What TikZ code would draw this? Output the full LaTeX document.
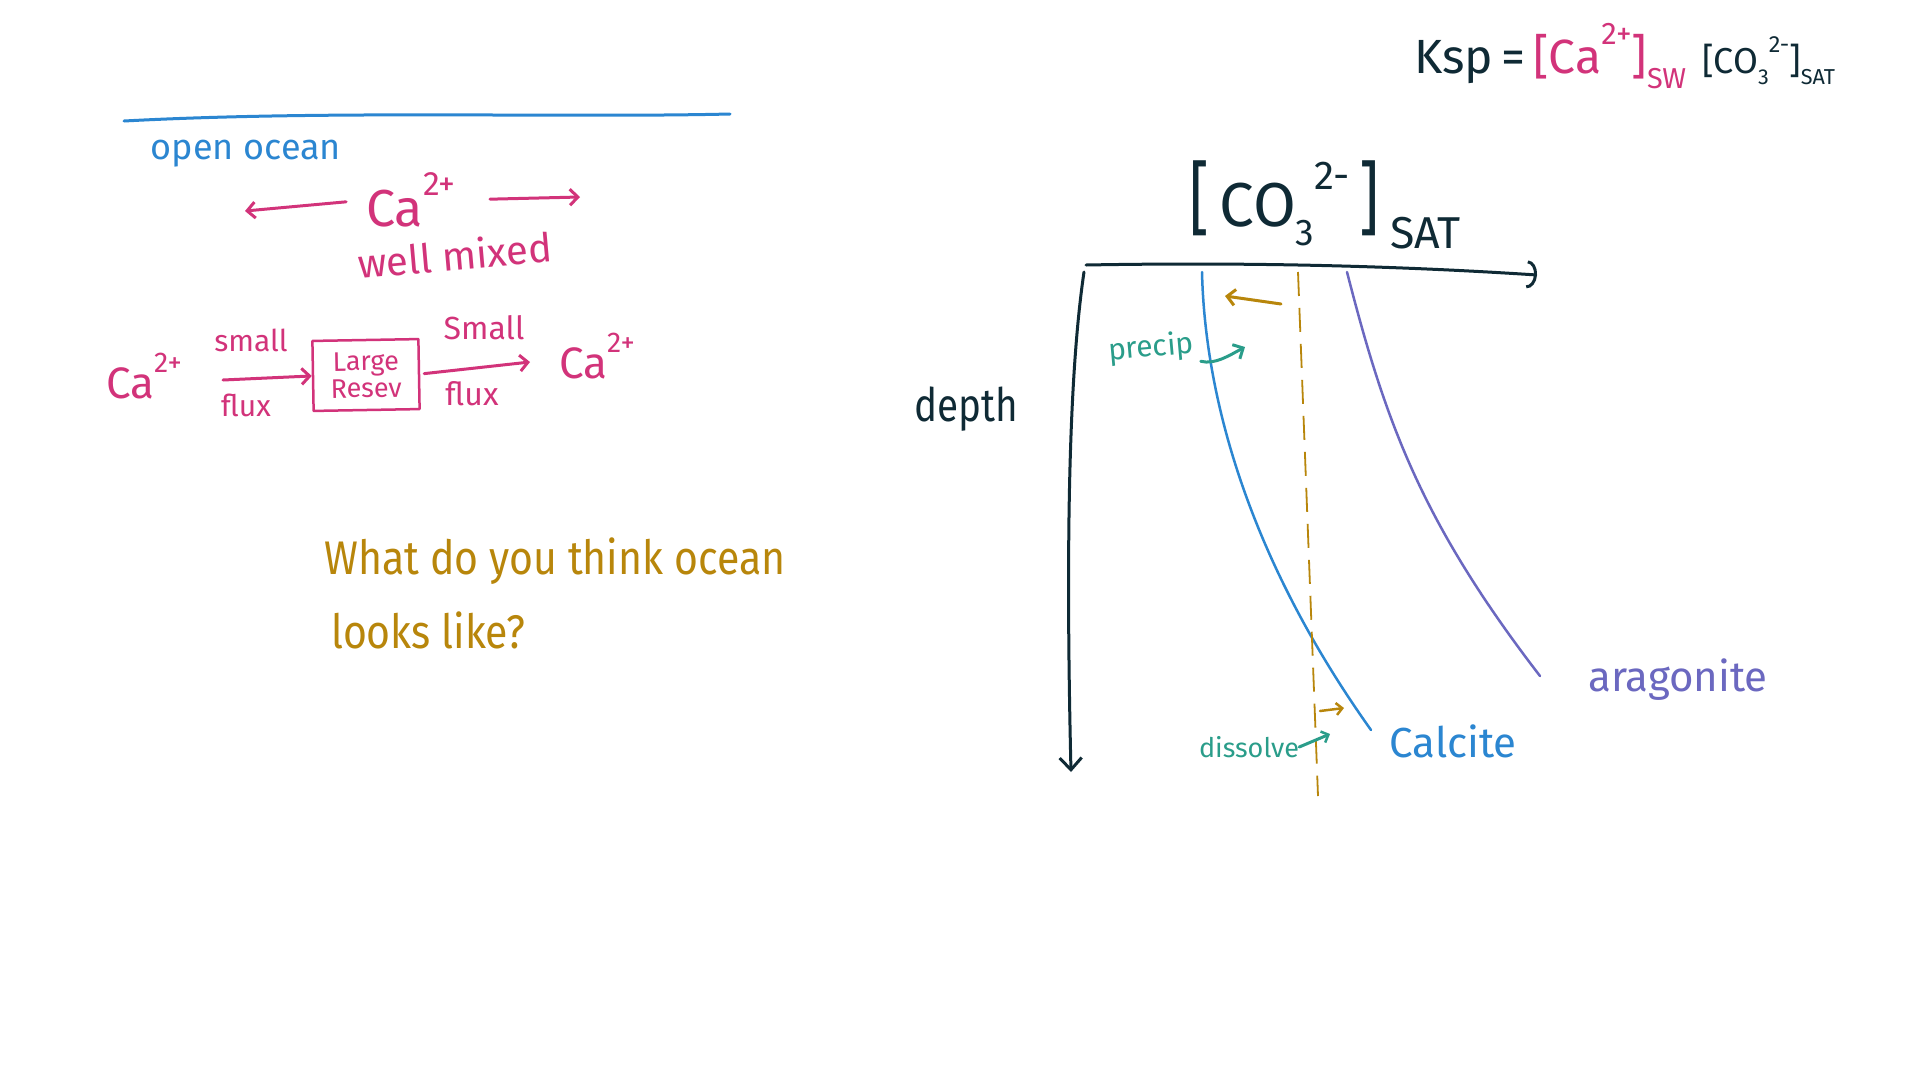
\documentclass[tikz,border=0pt]{standalone}
\usepackage{fontspec}
\setmainfont{Fira Sans}
\usetikzlibrary{arrows.meta}
\definecolor{inkblue}{HTML}{2B86D1}
\definecolor{inkpink}{HTML}{D2337A}
\definecolor{inknavy}{HTML}{0F2A35}
\definecolor{inkteal}{HTML}{2A9D8A}
\definecolor{inkgold}{HTML}{B8860B}
\definecolor{inkpurple}{HTML}{6B68C0}
\newcommand{\fs}[1]{\fontsize{#1}{#1}\selectfont}
\newcommand{\upsc}[1]{\raisebox{0.6em}{\scalebox{0.65}{#1}}}
\newcommand{\dnsc}[1]{\raisebox{-0.3em}{\scalebox{0.6}{#1}}}
\newcommand{\dnbig}[1]{\raisebox{-0.35em}{\scalebox{0.72}{#1}}}
\begin{document}
\begin{tikzpicture}[x=1pt,y=-1pt,
  pen/.style={line width=3pt, line cap=round, line join=round},
  thinpen/.style={line width=2.5pt, line cap=round, line join=round},
  barb/.style={-{Straight Barb[length=8pt,width=16pt,line width=3pt]}},
  bigbarb/.style={-{Straight Barb[length=12pt,width=22pt,line width=3pt]}},
  smallbarb/.style={-{Straight Barb[length=6pt,width=12pt,line width=2.5pt]}},
  arcbarb/.style={-{Arc Barb[length=10pt,width=28pt,line width=3pt]}},
  lbl/.style={inner sep=0pt, font=\fs{#1}},
]
\useasboundingbox (0,0) rectangle (1920,1080);
\fill[white] (0,0) rectangle (1920,1080);

% ---------- left panel ----------
\coordinate (ol1) at (124,121);
\coordinate (ol2) at (730,114);
\draw[pen, inkblue] (ol1) .. controls (330,110) and (560,118) .. (ol2);
\node[lbl=36, inkblue] (open) at (246,154) {open ocean};

\node[lbl=52, inkpink] (caTop) at (411,200) {Ca\upsc{2+}};
\coordinate (laEnd) at (245,211);
\coordinate (raEnd) at (580,197);
\draw[pen, inkpink, barb, shorten <=20pt] (caTop.west) -- (laEnd);
\draw[pen, inkpink, barb, shorten <=34pt] (caTop.east) -- (raEnd);
\node[lbl=40, inkpink, rotate=5] (mixed) at (455,255) {well mixed};

\node[lbl=44, inkpink] (caL) at (144,376) {Ca\upsc{2+}};
\node[lbl=30, inkpink] (small1) at (251,340) {small};
\node[lbl=30, inkpink] (flux1) at (246,405) {flux};
\node[draw, thinpen, inkpink, inner sep=0pt, minimum width=106pt, minimum height=70pt,
      align=center, font=\fs{27}, rotate=1] (res) at (366,375) {Large\\Resev};
\coordinate (a1s) at (223,380);
\draw[pen, inkpink, barb] (a1s) -- (res.west);
\node[lbl=32, inkpink] (small2) at (484,328) {Small};
\node[lbl=32, inkpink] (flux2) at (472,394) {flux};
\coordinate (a2e) at (530,362);
\draw[pen, inkpink, barb, shorten <=4pt] (res.east) -- (a2e);
\node[lbl=44, inkpink] (caR) at (597,356) {Ca\upsc{2+}};

\node[lbl=41, inkgold, anchor=base west] (q1) at (324,574) {\scalebox{1}[1.15]{What do you think ocean}};
\node[lbl=41, inkgold, anchor=base west] (q2) at (331,648) {\scalebox{1}[1.15]{looks like?}};

% ---------- right panel ----------
\node[lbl=48, anchor=west] (ksp) at (1414,56)
  {{\color{inknavy}Ksp\,=\,}{\color{inkpink}[Ca\upsc{2+}]\dnsc{SW}}\,\,{\color{inknavy}\fs{36}[CO\dnsc{3}\upsc{2-}]\dnsc{SAT}}};

\node[lbl=62, inknavy] (co3) at (1325,205)
  {\scalebox{1}[1.3]{[}\,CO\dnsc{3}\upsc{2-}\,\scalebox{1}[1.3]{]}\,\dnbig{SAT}};

\coordinate (xa0) at (1086,265);
\coordinate (xa1) at (1537,275);
\draw[pen, inknavy, arcbarb] (xa0) .. controls (1250,262) and (1400,266) .. (xa1);
\coordinate (ya0) at (1084,272);
\coordinate (ya1) at (1071,772);
\draw[pen, inknavy, bigbarb] (ya0) .. controls (1068,380) and (1066,560) .. (ya1);
\node[lbl=42, inknavy] (depth) at (966,409) {\scalebox{0.92}[1.1]{depth}};

% saturation curves
\coordinate (c0) at (1202,272);
\coordinate (c1) at (1371,730);
\draw[thinpen, inkblue] (c0) .. controls (1205,400) and (1250,560) .. (c1);
\coordinate (g0) at (1347,272);
\coordinate (g1) at (1540,676);
\draw[thinpen, inkpurple] (g0) .. controls (1385,420) and (1420,520) .. (g1);
\coordinate (d0) at (1298,272);
\coordinate (d1) at (1318,796);
\draw[line width=1.8pt, inkgold, dash pattern=on 24pt off 12pt] (d0) -- (d1);

% precipitate / dissolve arrows
\coordinate (gpa) at (1281,304);
\coordinate (gpb) at (1225,296);
\draw[pen, inkgold, barb] (gpa) -- (gpb);
\node[lbl=30, inkteal, rotate=5] (precip) at (1151,348) {precip};
\coordinate (tpb) at (1245,347);
\draw[pen, inkteal, barb] (precip.east) ++(7,17) .. controls (1215,365) and (1230,355) .. (tpb);

\coordinate (gda) at (1320,711);
\coordinate (gdb) at (1344,708);
\draw[thinpen, inkgold, smallbarb] (gda) -- (gdb);
\node[lbl=27, inkteal] (dissolve) at (1249,747) {dissolve};
\coordinate (tdb) at (1330,734);
\draw[pen, inkteal, smallbarb] (dissolve.east) -- (tdb);

\node[lbl=42, inkblue] (calcite) at (1453,741) {Calcite};
\node[lbl=42, inkpurple] (arag) at (1678,680) {aragonite};
\end{tikzpicture}
\end{document}
